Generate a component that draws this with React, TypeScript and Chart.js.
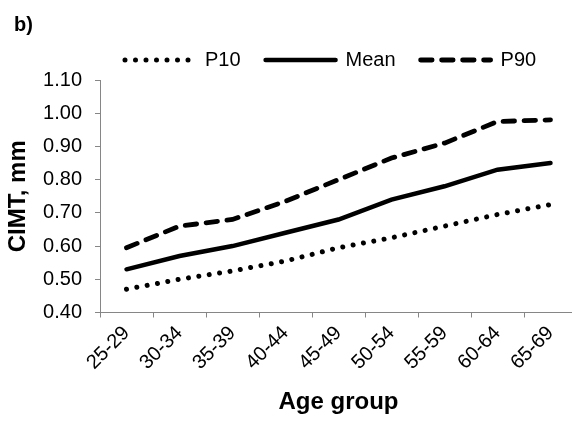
import React, { useEffect, useRef } from 'react';
import { Chart, registerables } from 'chart.js';

Chart.register(...registerables);

const ageGroups = ['25-29', '30-34', '35-39', '40-44', '45-49', '50-54', '55-59', '60-64', '65-69'];
const p10Values = [0.47, 0.5, 0.525, 0.555, 0.595, 0.625, 0.66, 0.695, 0.725];
const meanValues = [0.53, 0.57, 0.6, 0.64, 0.68, 0.74, 0.78, 0.83, 0.85];
const p90Values = [0.595, 0.66, 0.68, 0.735, 0.8, 0.865, 0.91, 0.975, 0.98];
const yMin = 0.4;
const yMax = 1.1;
const yStep = 0.1;

const FONT = "'Liberation Sans', Arial, Helvetica, sans-serif";
const AXIS = '#868686';

export default function App() {
  const ref = useRef<HTMLCanvasElement | null>(null);

  useEffect(() => {
    if (!ref.current) return;
    const chart = new Chart(ref.current, {
      type: 'line',
      data: {
        labels: ageGroups,
        datasets: [
          {
            label: 'P10',
            data: p10Values,
            borderColor: '#000',
            backgroundColor: '#000',
            borderWidth: 5,
            borderDash: [0.001, 10.499],
            borderCapStyle: 'round',
            pointRadius: 0,
            fill: false,
            tension: 0,
          },
          {
            label: 'Mean',
            data: meanValues,
            borderColor: '#000',
            backgroundColor: '#000',
            borderWidth: 4.5,
            borderDash: [],
            borderCapStyle: 'round',
            pointRadius: 0,
            fill: false,
            tension: 0,
          },
          {
            label: 'P90',
            data: p90Values,
            borderColor: '#000',
            backgroundColor: '#000',
            borderWidth: 4.8,
            borderDash: [11.5, 9.5],
            borderCapStyle: 'round',
            pointRadius: 0,
            fill: false,
            tension: 0,
          },
        ],
      },
      options: {
        responsive: false,
        animation: false,
        devicePixelRatio: 1,
        layout: { padding: { left: 0, right: 3, top: 25, bottom: 0 } },
        plugins: {
          legend: {
            position: 'top',
            align: 'start',
            fullSize: false,
            labels: {
              usePointStyle: true,
              pointStyle: 'line',
              pointStyleWidth: 70,
              boxWidth: 70,
              boxHeight: 20,
              padding: 25,
              color: '#000',
              font: { family: FONT, size: 20 },
              generateLabels: (c: any) => {
                const items = Chart.defaults.plugins.legend.labels.generateLabels(c);
                items.forEach((it: any) => {
                  const ds: any = c.data.datasets[it.datasetIndex];
                  it.lineDash = ds.borderDash || [];
                  it.lineCap = ds.borderCapStyle;
                  it.lineWidth = ds.borderWidth;
                  it.strokeStyle = ds.borderColor;
                  it.fillStyle = ds.backgroundColor;
                  it.lineDashOffset = 0;
                });
                return items;
              },
            },
          },
          tooltip: { enabled: false },
        },
        scales: {
          x: {
            type: 'category',
            offset: true,
            grid: {
              offset: true,
              drawOnChartArea: false,
              drawTicks: true,
              tickLength: 5,
              tickColor: AXIS,
              tickWidth: 1,
            },
            border: { color: AXIS, width: 1 },
            ticks: {
              color: '#000',
              font: { family: FONT, size: 20 },
              minRotation: 45,
              maxRotation: 45,
              autoSkip: false,
              padding: 4,
            },
            title: {
              display: true,
              text: 'Age group',
              color: '#000',
              font: { family: FONT, size: 24, weight: 'bold' },
              padding: { top: 0, bottom: 6 },
            },
            afterFit: (s: any) => {
              s.height = 110.5;
            },
          },
          y: {
            min: yMin,
            max: yMax,
            grid: {
              drawOnChartArea: false,
              drawTicks: true,
              tickLength: 5,
              tickColor: AXIS,
              tickWidth: 1,
            },
            border: { color: AXIS, width: 1 },
            ticks: {
              stepSize: yStep,
              color: '#000',
              font: { family: FONT, size: 20 },
              padding: 13,
              callback: (v: any) => Number(v).toFixed(2),
            },
            title: {
              display: true,
              text: 'CIMT, mm',
              color: '#000',
              font: { family: FONT, size: 24, weight: 'bold' },
              padding: { top: 4, bottom: 0 },
            },
            afterFit: (s: any) => {
              s.width = 100;
            },
          },
        },
      },
    } as any);
    return () => chart.destroy();
  }, []);

  return (
    <div
      style={{
        position: 'absolute',
        left: 0,
        top: 0,
        width: 572,
        height: 423,
        overflow: 'hidden',
        background: '#fff',
      }}
    >
      <canvas
        ref={ref}
        width={580}
        height={423}
        style={{ display: 'block', width: 580, height: 423 }}
      />
      <div
        style={{
          position: 'absolute',
          left: 14,
          top: 14,
          fontFamily: FONT,
          fontWeight: 'bold',
          fontSize: 20,
          lineHeight: '20px',
          color: '#000',
        }}
      >
        b)
      </div>
    </div>
  );
}
